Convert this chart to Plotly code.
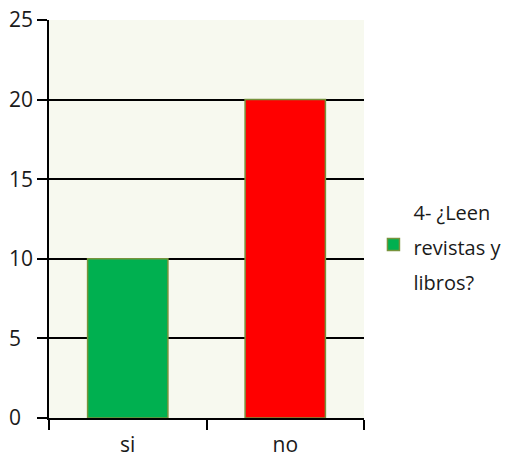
import plotly.graph_objects as go

categories = ["si", "no"]
values = [10, 20]
bar_colors = ["#00B050", "#FF0000"]
series_lines = ["4- ¿Leen", "revistas y", "libros?"]
y_ticks = [0, 5, 10, 15, 20, 25]

# left-aligned tick labels (pad single digits with a figure space)
y_ticktext = [f"{v}\u2007" if v < 10 else str(v) for v in y_ticks]
series_name = "<br>".join(
    f"<span style='font-size:20px'>{s}</span>" for s in series_lines)

fig = go.Figure()
fig.add_trace(go.Bar(
    x=categories, y=values, name=series_name,
    marker=dict(color=bar_colors, line=dict(color="#77933C", width=1.5)),
    width=0.51, showlegend=True,
))

ff = "Open Sans, DejaVu Sans, sans-serif"
fig.update_layout(
    width=511, height=451,
    margin=dict(l=41, r=155, t=12, b=41, autoexpand=False),
    paper_bgcolor="white", plot_bgcolor="#F7F9EF",
    font=dict(family=ff, size=20, color="#1a1a1a"),
    showlegend=True,
    legend=dict(x=1.03, y=0.435, xanchor="left", yanchor="middle",
                font=dict(family=ff, size=27, color="#1a1a1a"),
                bgcolor="rgba(0,0,0,0)", itemwidth=30),
    bargap=0.49,
)
fig.update_xaxes(
    showline=True, linecolor="black", linewidth=1.5, automargin=False,
    ticks="outside", tickson="boundaries", ticklen=10, tickwidth=1.5, tickcolor="black",
    showgrid=False, tickfont=dict(size=21), ticklabelstandoff=7,
)
fig.update_yaxes(
    range=[0, 25], tickvals=y_ticks, ticktext=y_ticktext,
    showline=True, linecolor="black", linewidth=1.5,
    automargin=False, ticklabeloverflow="allow",
    ticks="outside", ticklen=10, tickwidth=1.5, tickcolor="black",
    showgrid=True, gridcolor="black", gridwidth=1.5, zeroline=False,
    tickfont=dict(size=21),
)
fig.write_html("out.html")
